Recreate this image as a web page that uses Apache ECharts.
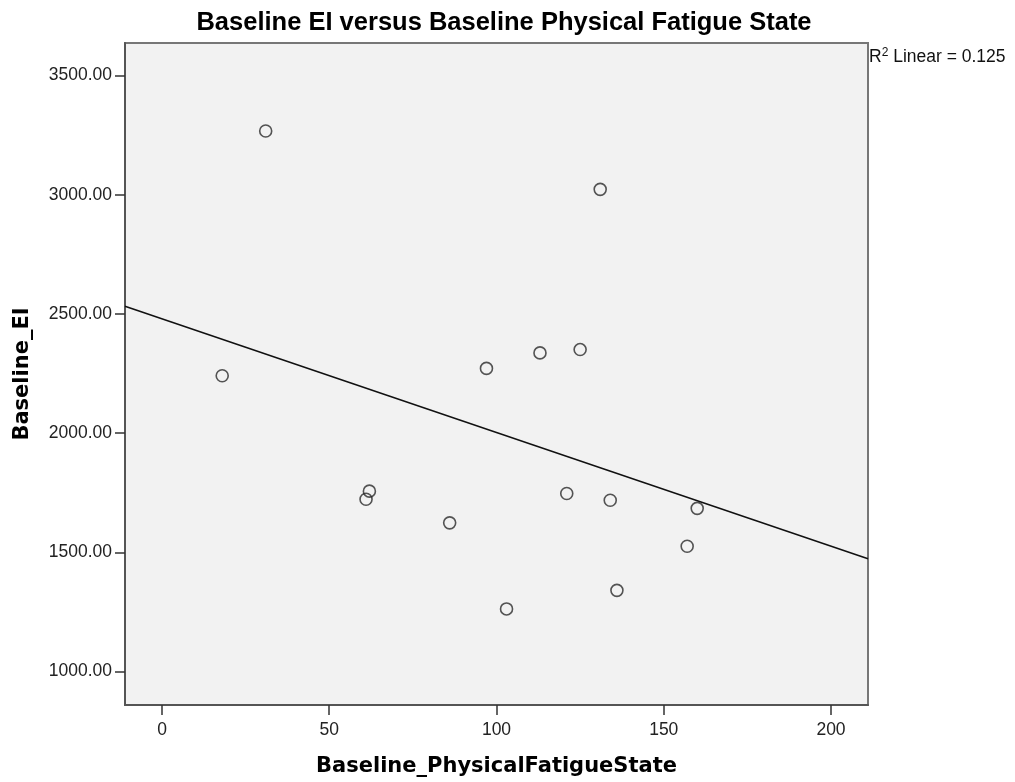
<!DOCTYPE html>
<html>
<head>
<meta charset="utf-8">
<script src="https://cdn.jsdelivr.net/npm/echarts@6/dist/echarts.min.js"></script>
<style>
  html, body { margin: 0; padding: 0; background: #ffffff; }
  #chart { width: 1015px; height: 782px; }
</style>
</head>
<body>
<div id="chart"></div>
<script>
// ---- data ----
const physicalFatigue = [31, 131, 18, 97, 113, 125, 62, 61, 86, 121, 134, 160, 157, 136, 103];
const baselineEI      = [3268, 3023, 2241, 2272, 2337, 2351, 1757, 1723, 1624, 1747, 1719, 1685, 1526, 1341, 1263];
const xTickValues = [0, 50, 100, 150, 200];
const yTickValues = [1000, 1500, 2000, 2500, 3000, 3500];
const xRange = [-11.06, 211.06];
const yRange = [860, 3637];
const chartTitle = 'Baseline EI versus Baseline Physical Fatigue State';
const xName = 'Baseline_PhysicalFatigueState';
const yName = 'Baseline_EI';
const r2Text = '0.125';

// ---- least squares fit line ----
const n = physicalFatigue.length;
const mx = physicalFatigue.reduce((a, b) => a + b, 0) / n;
const my = baselineEI.reduce((a, b) => a + b, 0) / n;
let sxy = 0, sxx = 0;
for (let i = 0; i < n; i++) {
  sxy += (physicalFatigue[i] - mx) * (baselineEI[i] - my);
  sxx += (physicalFatigue[i] - mx) * (physicalFatigue[i] - mx);
}
const slope = sxy / sxx;
const intercept = my - slope * mx;
const fitLine = xRange.map(x => [x, intercept + slope * x]);
const points = physicalFatigue.map((x, i) => [x, baselineEI[i]]);

const chart = echarts.init(document.getElementById('chart'), null, { renderer: 'canvas' });
chart.setOption({
  animation: false,
  backgroundColor: '#ffffff',
  title: {
    text: chartTitle,
    left: 499,
    top: 5,
    textAlign: 'center',
    textStyle: { fontFamily: 'Liberation Sans', fontWeight: 'bold', fontSize: 25.5, color: '#000' }
  },
  grid: {
    left: 125, right: 147, top: 43, bottom: 77,
    show: true, backgroundColor: '#f2f2f2', borderColor: '#777', borderWidth: 2,
    outerBoundsMode: 'none'
  },
  xAxis: {
    type: 'value',
    min: xRange[0], max: xRange[1],
    name: xName,
    nameLocation: 'middle',
    nameGap: 51,
    nameTextStyle: { fontFamily: 'DejaVu Sans', fontWeight: 'bold', fontSize: 21, color: '#000' },
    axisLine: { show: true, onZero: false, lineStyle: { color: '#555', width: 2 } },
    axisTick: { show: true, length: 10, customValues: xTickValues, lineStyle: { color: '#333', width: 1.5 } },
    axisLabel: { show: true, margin: 16, customValues: xTickValues, fontFamily: 'Liberation Sans', fontSize: 17.5, color: '#222' },
    splitLine: { show: false }
  },
  yAxis: {
    type: 'value',
    min: yRange[0], max: yRange[1],
    name: yName,
    nameLocation: 'middle',
    nameGap: 92,
    nameTextStyle: { fontFamily: 'DejaVu Sans', fontWeight: 'bold', fontSize: 21, color: '#000' },
    axisLine: { show: true, onZero: false, lineStyle: { color: '#555', width: 2 } },
    axisTick: { show: true, length: 10, customValues: yTickValues, lineStyle: { color: '#333', width: 1.5 } },
    axisLabel: {
      show: true, margin: 13, customValues: yTickValues,
      fontFamily: 'Liberation Sans', fontSize: 17.5, color: '#222',
      formatter: v => Number(v).toFixed(2)
    },
    splitLine: { show: false }
  },
  graphic: [{
    type: 'text',
    left: 869,
    top: 47,
    style: {
      text: 'R{sup|2} Linear = ' + r2Text,
      fontFamily: 'Liberation Sans', fontSize: 17.5, fill: '#111',
      rich: { sup: { fontFamily: 'Liberation Sans', fontSize: 12, fill: '#111', padding: [0, 0, 8, 0] } }
    }
  }],
  series: [
    {
      type: 'line',
      data: fitLine,
      symbol: 'none',
      silent: true,
      lineStyle: { color: '#111', width: 1.5 },
      z: 2
    },
    {
      type: 'scatter',
      data: points,
      symbol: 'circle',
      symbolSize: 12,
      itemStyle: { color: 'rgba(0,0,0,0)', borderColor: '#2a2a2a', borderWidth: 1.6 },
      z: 3
    }
  ]
});
</script>
</body>
</html>
